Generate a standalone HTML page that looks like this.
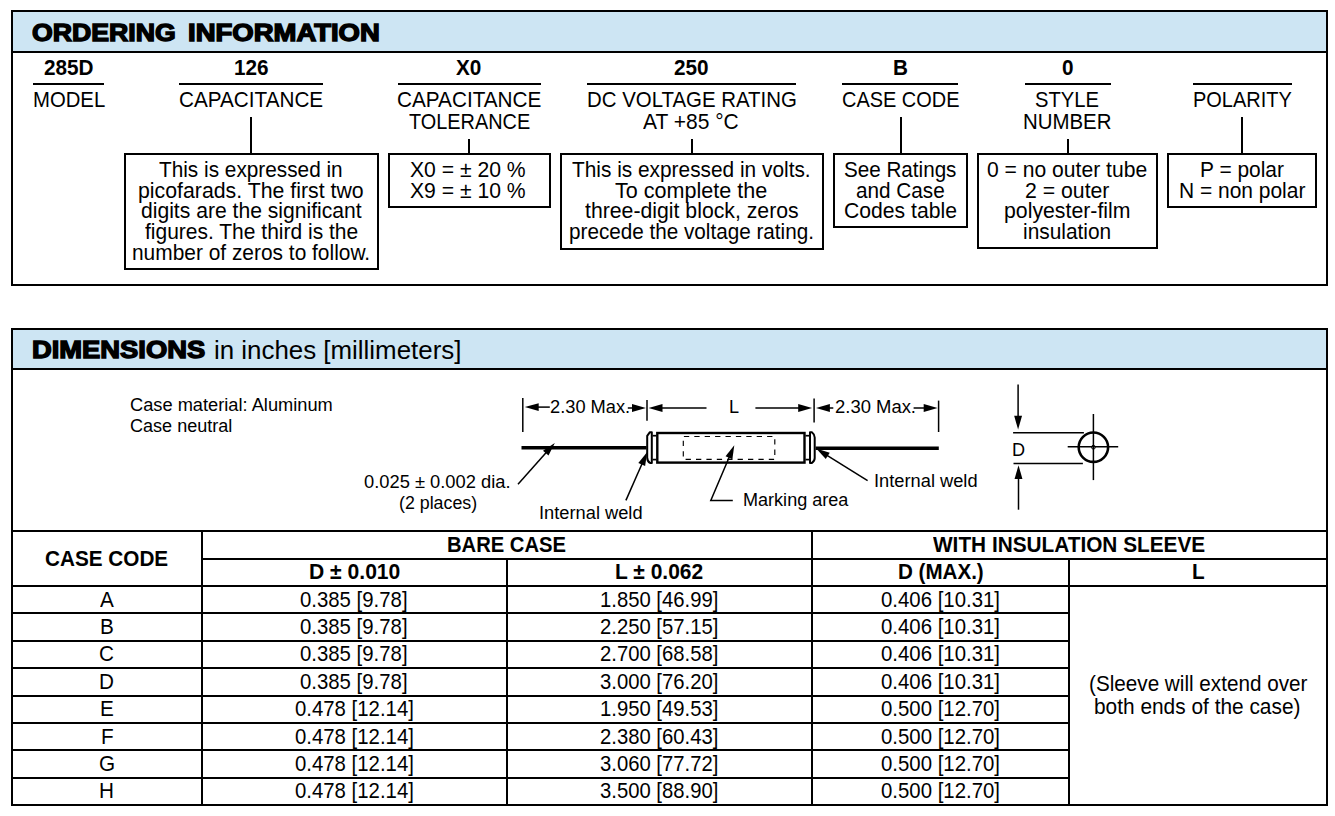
<!DOCTYPE html>
<html lang="en"><head><meta charset="utf-8"><title>285D Ordering Information / Dimensions</title>
<style>
html,body{margin:0;padding:0;background:#fff}
body{width:1335px;height:816px;position:relative;overflow:hidden;font-family:"Liberation Sans",sans-serif;color:#000}
.x{position:absolute;white-space:nowrap;transform-origin:0 0;display:block}
.m{font-size:21.8px;line-height:22px}
.s{font-size:18.3px;line-height:18px}
.t{font-size:24.4px;line-height:27px;-webkit-text-stroke:1.4px #000}
.u{font-size:25.8px;line-height:27px}
.b{font-weight:bold}
.r{position:absolute}
.bx{position:absolute;border:2px solid #000;border-style:solid;border-color:#000}
svg{position:absolute;left:0;top:0}
</style></head>
<body>
<!-- ORDERING INFORMATION -->
<div class="bx" style="left:11.00px;top:10.00px;width:1313.00px;height:272.00px;border-width:2px;"></div>
<div class="r" style="left:13.00px;top:12.00px;width:1313.00px;height:39.00px;background:#cde5f3"></div>
<div class="r" style="left:13.00px;top:51.00px;width:1313.00px;height:2.00px;background:#000"></div>
<span class="x t b" style="left:31.85px;top:19.40px;transform:scaleX(1.0934);">ORDERING</span>
<span class="x t b" style="left:187.55px;top:19.40px;transform:scaleX(1.1268);">INFORMATION</span>
<span class="x m b" style="left:43.53px;top:57.05px;transform:scaleX(0.9500);">285D</span>
<span class="x m b" style="left:234.23px;top:57.05px;transform:scaleX(0.9500);">126</span>
<span class="x m b" style="left:456.34px;top:57.05px;transform:scaleX(0.9500);">X0</span>
<span class="x m b" style="left:674.11px;top:57.05px;transform:scaleX(0.9500);">250</span>
<span class="x m b" style="left:893.27px;top:57.05px;transform:scaleX(0.9500);">B</span>
<span class="x m b" style="left:1061.75px;top:57.05px;transform:scaleX(0.9500);">0</span>
<div class="r" style="left:33.00px;top:83.00px;width:71.00px;height:2.00px;background:#000"></div>
<div class="r" style="left:179.25px;top:83.00px;width:143.50px;height:2.00px;background:#000"></div>
<div class="r" style="left:397.50px;top:83.00px;width:143.25px;height:2.00px;background:#000"></div>
<div class="r" style="left:587.00px;top:83.00px;width:208.75px;height:2.00px;background:#000"></div>
<div class="r" style="left:842.00px;top:83.00px;width:116.00px;height:2.00px;background:#000"></div>
<div class="r" style="left:1025.00px;top:83.00px;width:85.75px;height:2.00px;background:#000"></div>
<div class="r" style="left:1193.00px;top:83.00px;width:98.75px;height:2.00px;background:#000"></div>
<span class="x m" style="left:32.65px;top:89.05px;transform:scaleX(0.9316);">MODEL</span>
<span class="x m" style="left:179.15px;top:89.05px;transform:scaleX(0.9497);">CAPACITANCE</span>
<span class="x m" style="left:397.15px;top:89.05px;transform:scaleX(0.9513);">CAPACITANCE</span>
<span class="x m" style="left:586.65px;top:89.05px;transform:scaleX(0.9368);">DC VOLTAGE RATING</span>
<span class="x m" style="left:841.65px;top:89.05px;transform:scaleX(0.9147);">CASE CODE</span>
<span class="x m" style="left:1035.15px;top:89.05px;transform:scaleX(0.9261);">STYLE</span>
<span class="x m" style="left:1192.65px;top:89.05px;transform:scaleX(0.9156);">POLARITY</span>
<span class="x m" style="left:409.15px;top:110.75px;transform:scaleX(0.9122);">TOLERANCE</span>
<span class="x m" style="left:643.40px;top:110.75px;transform:scaleX(0.9627);">AT +85 °C</span>
<span class="x m" style="left:1023.40px;top:110.75px;transform:scaleX(0.9365);">NUMBER</span>
<div class="r" style="left:250.00px;top:117.00px;width:2.00px;height:37.00px;background:#000"></div>
<div class="r" style="left:468.00px;top:138.75px;width:2.00px;height:15.25px;background:#000"></div>
<div class="r" style="left:691.00px;top:138.75px;width:2.00px;height:15.25px;background:#000"></div>
<div class="r" style="left:899.50px;top:117.00px;width:2.00px;height:37.00px;background:#000"></div>
<div class="r" style="left:1066.75px;top:138.75px;width:2.00px;height:15.25px;background:#000"></div>
<div class="r" style="left:1240.75px;top:117.00px;width:2.00px;height:37.00px;background:#000"></div>
<div class="bx" style="left:124.00px;top:153.00px;width:251.25px;height:113.00px;border-width:2px;"></div>
<div class="bx" style="left:388.00px;top:153.00px;width:159.25px;height:50.50px;border-width:2px;"></div>
<div class="bx" style="left:560.00px;top:153.00px;width:259.75px;height:92.50px;border-width:2px;"></div>
<div class="bx" style="left:833.00px;top:153.00px;width:130.50px;height:71.25px;border-width:2px;"></div>
<div class="bx" style="left:977.00px;top:153.00px;width:177.00px;height:92.25px;border-width:2px;"></div>
<div class="bx" style="left:1167.25px;top:153.00px;width:145.25px;height:50.50px;border-width:2px;"></div>
<span class="x m" style="left:159.15px;top:158.85px;transform:scaleX(0.9535);">This is expressed in</span>
<span class="x m" style="left:138.40px;top:179.55px;transform:scaleX(0.9769);">picofarads. The first two</span>
<span class="x m" style="left:140.90px;top:200.25px;transform:scaleX(0.9688);">digits are the significant</span>
<span class="x m" style="left:144.65px;top:220.95px;transform:scaleX(0.9631);">figures. The third is the</span>
<span class="x m" style="left:132.15px;top:241.65px;transform:scaleX(0.9589);">number of zeros to follow.</span>
<span class="x m" style="left:410.15px;top:158.85px;transform:scaleX(0.9703);">X0 = ± 20 %</span>
<span class="x m" style="left:410.15px;top:179.55px;transform:scaleX(0.9703);">X9 = ± 10 %</span>
<span class="x m" style="left:571.65px;top:158.85px;transform:scaleX(0.9563);">This is expressed in volts.</span>
<span class="x m" style="left:615.15px;top:179.55px;transform:scaleX(0.9889);">To complete the</span>
<span class="x m" style="left:584.65px;top:200.25px;transform:scaleX(0.9744);">three-digit block, zeros</span>
<span class="x m" style="left:569.15px;top:220.95px;transform:scaleX(0.9488);">precede the voltage rating.</span>
<span class="x m" style="left:844.15px;top:158.85px;transform:scaleX(0.9469);">See Ratings</span>
<span class="x m" style="left:855.90px;top:179.55px;transform:scaleX(0.9507);">and Case</span>
<span class="x m" style="left:844.15px;top:200.25px;transform:scaleX(0.9707);">Codes table</span>
<span class="x m" style="left:987.15px;top:158.85px;transform:scaleX(0.9682);">0 = no outer tube</span>
<span class="x m" style="left:1025.15px;top:179.55px;transform:scaleX(0.9746);">2 = outer</span>
<span class="x m" style="left:1003.90px;top:200.25px;transform:scaleX(0.9757);">polyester-film</span>
<span class="x m" style="left:1023.40px;top:220.95px;transform:scaleX(0.9576);">insulation</span>
<span class="x m" style="left:1199.90px;top:158.85px;transform:scaleX(0.9597);">P = polar</span>
<span class="x m" style="left:1178.65px;top:179.55px;transform:scaleX(0.9615);">N = non polar</span>
<!-- DIMENSIONS -->
<div class="bx" style="left:11.00px;top:328.00px;width:1313.00px;height:474.00px;border-width:2px;"></div>
<div class="r" style="left:13.00px;top:330.00px;width:1313.00px;height:38.00px;background:#cde5f3"></div>
<div class="r" style="left:13.00px;top:368.00px;width:1313.00px;height:2.00px;background:#000"></div>
<span class="x t b" style="left:31.85px;top:336.20px;transform:scaleX(1.1211);">DIMENSIONS</span>
<span class="x u" style="left:214.15px;top:337.20px;transform:scaleX(1.0035);">in inches [millimeters]</span>
<span class="x s" style="left:130.40px;top:395.95px;transform:scaleX(0.9978);">Case material: Aluminum</span>
<span class="x s" style="left:130.40px;top:416.85px;transform:scaleX(0.9874);">Case neutral</span>
<span class="x s" style="left:364.15px;top:472.85px;transform:scaleX(1.0020);">0.025 ± 0.002 dia.</span>
<span class="x s" style="left:398.90px;top:494.05px;transform:scaleX(0.9734);">(2 places)</span>
<span class="x s" style="left:549.65px;top:398.25px;transform:scaleX(0.9990);">2.30 Max.</span>
<span class="x s" style="left:729.07px;top:398.25px;transform:scaleX(0.9900);">L</span>
<span class="x s" style="left:835.45px;top:398.25px;transform:scaleX(1.0089);">2.30 Max.</span>
<span class="x s" style="left:538.65px;top:504.15px;transform:scaleX(0.9994);">Internal weld</span>
<span class="x s" style="left:743.15px;top:491.15px;transform:scaleX(0.9876);">Marking area</span>
<span class="x s" style="left:874.05px;top:471.85px;transform:scaleX(0.9994);">Internal weld</span>
<span class="x s" style="left:1011.86px;top:441.05px;transform:scaleX(0.9900);">D</span>
<svg width="1335" height="816" viewBox="0 0 1335 816" stroke="#000" fill="none">
<line x1="522.80" y1="398.00" x2="522.80" y2="432.00" stroke-width="1.5" />
<line x1="647.00" y1="399.90" x2="647.00" y2="420.80" stroke-width="1.5" />
<line x1="814.10" y1="398.40" x2="814.10" y2="422.60" stroke-width="1.5" />
<line x1="938.60" y1="400.60" x2="938.60" y2="432.00" stroke-width="1.5" />
<polygon points="524.80,407.10 538.70,403.15 538.70,411.05" fill="#000" stroke="none"/>
<line x1="537.00" y1="407.10" x2="549.80" y2="407.10" stroke-width="1.5" />
<line x1="627.80" y1="408.00" x2="634.00" y2="408.00" stroke-width="1.5" />
<polygon points="645.90,408.00 632.00,411.95 632.00,404.05" fill="#000" stroke="none"/>
<polygon points="648.60,408.00 662.50,404.05 662.50,411.95" fill="#000" stroke="none"/>
<line x1="660.00" y1="408.00" x2="706.50" y2="408.00" stroke-width="1.5" />
<line x1="755.40" y1="408.00" x2="800.00" y2="408.00" stroke-width="1.5" />
<polygon points="812.10,408.00 798.20,411.95 798.20,404.05" fill="#000" stroke="none"/>
<polygon points="816.00,408.00 829.90,404.05 829.90,411.95" fill="#000" stroke="none"/>
<line x1="828.00" y1="408.00" x2="833.30" y2="408.00" stroke-width="1.5" />
<line x1="913.60" y1="408.00" x2="925.50" y2="408.00" stroke-width="1.5" />
<polygon points="937.60,408.00 923.70,411.95 923.70,404.05" fill="#000" stroke="none"/>
<line x1="521.50" y1="447.70" x2="646.60" y2="447.70" stroke-width="3.5" />
<line x1="815.60" y1="448.30" x2="938.80" y2="448.30" stroke-width="3.5" />
<rect x="657.3" y="433.0" width="147.2" height="29.6" fill="none" stroke-width="2.4"/>
<path d="M651.8,432.2 L649.9,432.2 L647.2,435.8 L647.2,457.6 Q647.4,461.6 650,462.9 L651.8,462.9 Z" fill="none" stroke-width="2" stroke-linejoin="round"/>
<path d="M810.0,432.2 L811.9,432.2 Q814.7,434.4 814.7,437.4 L814.7,458 Q814.7,461 811.9,462.9 L810.0,462.9 Z" fill="none" stroke-width="2" stroke-linejoin="round"/>
<line x1="652.60" y1="435.70" x2="656.30" y2="435.70" stroke-width="1.7" />
<line x1="652.60" y1="459.60" x2="656.30" y2="459.60" stroke-width="1.7" />
<line x1="805.50" y1="435.70" x2="809.20" y2="435.70" stroke-width="1.7" />
<line x1="805.50" y1="459.60" x2="809.20" y2="459.60" stroke-width="1.7" />
<path d="M683.9,436.5 H774.8 V459.3 H683.3 V436.5" fill="none" stroke-width="1.15" stroke-dasharray="5.3 5.1"/>
<polyline points="518.00,484.20 547.55,451.11" fill="none" stroke-width="1.5"/>
<polygon points="554.80,443.00 548.50,455.61 542.98,450.68" fill="#000" stroke="none"/>
<polyline points="625.90,500.40 642.82,461.96" fill="none" stroke-width="1.5"/>
<polygon points="647.20,452.00 645.11,465.94 638.34,462.96" fill="#000" stroke="none"/>
<polyline points="732.80,500.40 710.80,500.40 730.03,455.31" fill="none" stroke-width="1.5"/>
<polygon points="734.30,445.30 732.37,459.26 725.56,456.36" fill="#000" stroke="none"/>
<polyline points="867.60,480.70 825.43,454.36" fill="none" stroke-width="1.5"/>
<polygon points="816.20,448.60 829.70,452.67 825.78,458.94" fill="#000" stroke="none"/>
<line x1="1018.10" y1="384.60" x2="1018.10" y2="418.00" stroke-width="1.5" />
<polygon points="1018.10,429.60 1014.15,415.70 1022.05,415.70" fill="#000" stroke="none"/>
<line x1="1013.10" y1="432.70" x2="1083.90" y2="432.70" stroke-width="1.5" />
<line x1="1013.50" y1="463.40" x2="1082.90" y2="463.40" stroke-width="1.5" />
<polygon points="1018.50,465.20 1022.45,479.10 1014.55,479.10" fill="#000" stroke="none"/>
<line x1="1018.50" y1="477.00" x2="1018.50" y2="509.70" stroke-width="1.5" />
<circle cx="1093.4" cy="447.2" r="14.7" fill="none" stroke-width="2.6"/>
<circle cx="1093.4" cy="447.2" r="1.9" fill="none" stroke-width="1"/>
<line x1="1067.70" y1="446.80" x2="1118.20" y2="446.80" stroke-width="1.5" />
<line x1="1093.40" y1="414.00" x2="1093.40" y2="480.10" stroke-width="1.5" />
</svg>
<div class="r" style="left:13.00px;top:530.00px;width:1313.00px;height:2.00px;background:#000"></div>
<div class="r" style="left:203.00px;top:558.00px;width:1123.00px;height:2.00px;background:#000"></div>
<div class="r" style="left:13.00px;top:585.00px;width:1313.00px;height:2.00px;background:#000"></div>
<div class="r" style="left:13.00px;top:612.00px;width:1056.00px;height:2.00px;background:#000"></div>
<div class="r" style="left:13.00px;top:640.00px;width:1056.00px;height:2.00px;background:#000"></div>
<div class="r" style="left:13.00px;top:667.00px;width:1056.00px;height:2.00px;background:#000"></div>
<div class="r" style="left:13.00px;top:695.00px;width:1056.00px;height:2.00px;background:#000"></div>
<div class="r" style="left:13.00px;top:722.00px;width:1056.00px;height:2.00px;background:#000"></div>
<div class="r" style="left:13.00px;top:749.00px;width:1056.00px;height:2.00px;background:#000"></div>
<div class="r" style="left:13.00px;top:777.00px;width:1056.00px;height:2.00px;background:#000"></div>
<div class="r" style="left:201.00px;top:530.00px;width:2.00px;height:274.00px;background:#000"></div>
<div class="r" style="left:506.00px;top:558.00px;width:2.00px;height:246.00px;background:#000"></div>
<div class="r" style="left:811.00px;top:530.00px;width:2.00px;height:274.00px;background:#000"></div>
<div class="r" style="left:1068.00px;top:558.00px;width:2.00px;height:246.00px;background:#000"></div>
<span class="x m b" style="left:45.15px;top:547.55px;transform:scaleX(0.9506);">CASE CODE</span>
<span class="x m b" style="left:447.15px;top:533.75px;transform:scaleX(0.9264);">BARE CASE</span>
<span class="x m b" style="left:932.90px;top:533.75px;transform:scaleX(0.9537);">WITH INSULATION SLEEVE</span>
<span class="x m b" style="left:308.70px;top:560.95px;transform:scaleX(0.9678);">D ± 0.010</span>
<span class="x m b" style="left:615.40px;top:560.95px;transform:scaleX(0.9633);">L ± 0.062</span>
<span class="x m b" style="left:897.65px;top:560.95px;transform:scaleX(0.9439);">D (MAX.)</span>
<span class="x m b" style="left:1191.56px;top:560.95px;transform:scaleX(0.9500);">L</span>
<span class="x m" style="left:99.99px;top:588.75px;transform:scaleX(0.9500);">A</span>
<span class="x m" style="left:300.42px;top:588.75px;transform:scaleX(0.9340);">0.385 [9.78]</span>
<span class="x m" style="left:600.01px;top:588.75px;transform:scaleX(0.9300);">1.850 [46.99]</span>
<span class="x m" style="left:880.80px;top:588.75px;transform:scaleX(0.9350);">0.406 [10.31]</span>
<span class="x m" style="left:99.99px;top:616.10px;transform:scaleX(0.9500);">B</span>
<span class="x m" style="left:300.42px;top:616.10px;transform:scaleX(0.9340);">0.385 [9.78]</span>
<span class="x m" style="left:600.01px;top:616.10px;transform:scaleX(0.9300);">2.250 [57.15]</span>
<span class="x m" style="left:880.80px;top:616.10px;transform:scaleX(0.9350);">0.406 [10.31]</span>
<span class="x m" style="left:99.42px;top:643.45px;transform:scaleX(0.9500);">C</span>
<span class="x m" style="left:300.42px;top:643.45px;transform:scaleX(0.9340);">0.385 [9.78]</span>
<span class="x m" style="left:600.01px;top:643.45px;transform:scaleX(0.9300);">2.700 [68.58]</span>
<span class="x m" style="left:880.80px;top:643.45px;transform:scaleX(0.9350);">0.406 [10.31]</span>
<span class="x m" style="left:99.42px;top:670.80px;transform:scaleX(0.9500);">D</span>
<span class="x m" style="left:300.42px;top:670.80px;transform:scaleX(0.9340);">0.385 [9.78]</span>
<span class="x m" style="left:600.01px;top:670.80px;transform:scaleX(0.9300);">3.000 [76.20]</span>
<span class="x m" style="left:880.80px;top:670.80px;transform:scaleX(0.9350);">0.406 [10.31]</span>
<span class="x m" style="left:99.99px;top:698.15px;transform:scaleX(0.9500);">E</span>
<span class="x m" style="left:294.76px;top:698.15px;transform:scaleX(0.9340);">0.478 [12.14]</span>
<span class="x m" style="left:600.01px;top:698.15px;transform:scaleX(0.9300);">1.950 [49.53]</span>
<span class="x m" style="left:880.80px;top:698.15px;transform:scaleX(0.9350);">0.500 [12.70]</span>
<span class="x m" style="left:100.57px;top:725.50px;transform:scaleX(0.9500);">F</span>
<span class="x m" style="left:294.76px;top:725.50px;transform:scaleX(0.9340);">0.478 [12.14]</span>
<span class="x m" style="left:600.01px;top:725.50px;transform:scaleX(0.9300);">2.380 [60.43]</span>
<span class="x m" style="left:880.80px;top:725.50px;transform:scaleX(0.9350);">0.500 [12.70]</span>
<span class="x m" style="left:98.85px;top:752.85px;transform:scaleX(0.9500);">G</span>
<span class="x m" style="left:294.76px;top:752.85px;transform:scaleX(0.9340);">0.478 [12.14]</span>
<span class="x m" style="left:600.01px;top:752.85px;transform:scaleX(0.9300);">3.060 [77.72]</span>
<span class="x m" style="left:880.80px;top:752.85px;transform:scaleX(0.9350);">0.500 [12.70]</span>
<span class="x m" style="left:99.42px;top:780.20px;transform:scaleX(0.9500);">H</span>
<span class="x m" style="left:294.76px;top:780.20px;transform:scaleX(0.9340);">0.478 [12.14]</span>
<span class="x m" style="left:600.01px;top:780.20px;transform:scaleX(0.9300);">3.500 [88.90]</span>
<span class="x m" style="left:880.80px;top:780.20px;transform:scaleX(0.9350);">0.500 [12.70]</span>
<span class="x m" style="left:1088.65px;top:672.95px;transform:scaleX(0.9489);">(Sleeve will extend over</span>
<span class="x m" style="left:1094.40px;top:696.05px;transform:scaleX(0.9571);">both ends of the case)</span>
</body></html>
